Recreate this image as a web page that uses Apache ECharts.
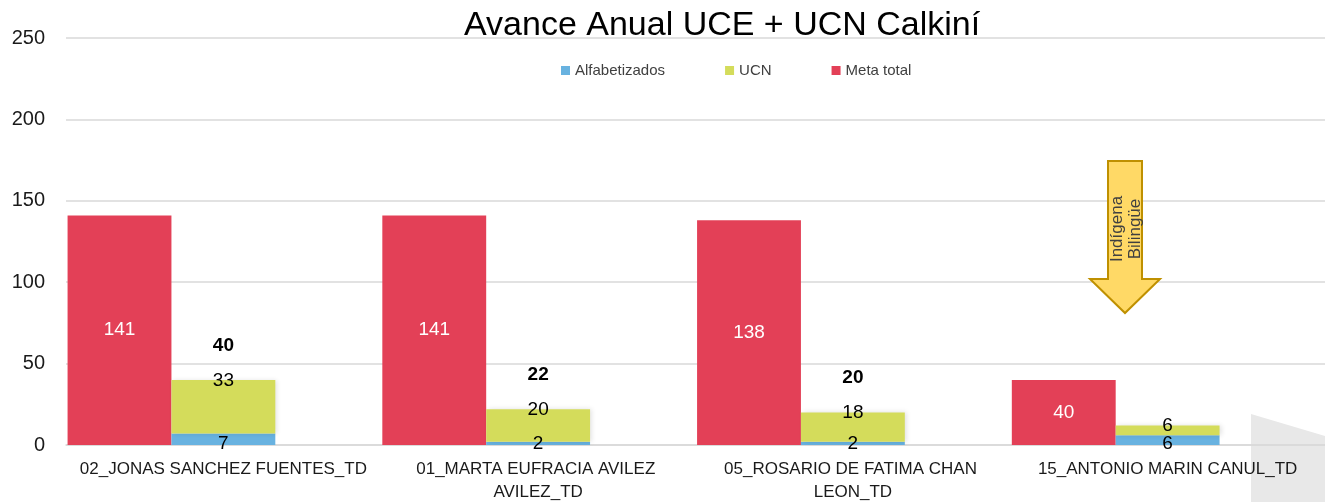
<!DOCTYPE html>
<html>
<head>
<meta charset="utf-8">
<script src="https://cdn.jsdelivr.net/npm/echarts@6/dist/echarts.min.js"></script>
<style>
  html, body {margin: 0; padding: 0; background: #fff;}
  #chart {width: 1325px; height: 502px;}
</style>
</head>
<body>
<div id="chart"></div>
<script>
const categories = ['02_JONAS SANCHEZ FUENTES_TD', '01_MARTA EUFRACIA AVILEZ AVILEZ_TD', '05_ROSARIO DE FATIMA CHAN LEON_TD', '15_ANTONIO MARIN CANUL_TD'];
const metaTotal = [141, 141, 138, 40];
const alfabetizados = [7, 2, 2, 6];
const ucn = [33, 20, 18, 6];
const totals = [40, 22, 20, null];
const yTicks = [0, 50, 100, 150, 200, 250];

const font = 'Liberation Sans';

let myChart = echarts.init(document.getElementById('chart'));
let option = {
    animation: false,
    textStyle: {fontFamily: font},
    title: {
        text: 'Avance Anual UCE + UCN Calkiní',
        left: 459,
        top: 4,
        textStyle: {fontSize: 34, fontWeight: 'normal', color: '#000', fontFamily: font}
    },
    legend: {
        data: ['Alfabetizados', 'UCN', 'Meta total'],
        left: 556,
        top: 58,
        itemWidth: 9,
        itemHeight: 9,
        itemGap: 60,
        icon: 'rect',
        textStyle: {fontSize: 15, color: '#404040', fontFamily: font}
    },
    grid: {left: 66, right: 0, top: 38, bottom: 57, outerBoundsMode: 'none'},
    xAxis: {
        type: 'category',
        data: categories,
        axisTick: {show: false},
        axisLine: {lineStyle: {color: '#d9d9d9', width: 1.5}},
        axisLabel: {
            interval: 0,
            fontSize: 17,
            color: '#1a1a1a',
            width: 300,
            overflow: 'break',
            lineHeight: 23,
            margin: 13
        }
    },
    yAxis: {
        type: 'value',
        min: yTicks[0],
        max: yTicks[yTicks.length - 1],
        interval: 50,
        axisLine: {show: false},
        axisTick: {show: false},
        splitLine: {lineStyle: {color: '#d9d9d9', width: 1.5}},
        axisLabel: {fontSize: 20, color: '#1a1a1a', margin: 21}
    },
    series: [
        {
            name: 'Meta total',
            type: 'bar',
            stack: 'meta',
            barGap: '0%',
            barCategoryGap: '1%',
            data: metaTotal,
            itemStyle: {color: '#E34057'},
            label: {show: true, position: 'inside', color: '#fff', fontSize: 19}
        },
        {
            name: 'Alfabetizados',
            type: 'bar',
            stack: 'avance',
            data: alfabetizados,
            itemStyle: {color: '#68B2E0'},
            label: {show: true, position: 'insideBottom', offset: [0, 13], color: '#000', fontSize: 19}
        },
        {
            name: 'UCN',
            type: 'bar',
            stack: 'avance',
            data: ucn,
            itemStyle: {color: '#D4DC5B', shadowColor: 'rgba(0,0,0,0.12)', shadowBlur: 5, shadowOffsetX: 2},
            label: {show: true, position: 'insideTop', offset: [0, -14], color: '#000', fontSize: 19}
        },
        {
            name: 'Total',
            type: 'bar',
            stack: 'avance',
            data: totals.map(() => 0),
            itemStyle: {color: 'transparent'},
            label: {
                show: true,
                position: 'top',
                distance: 25,
                color: '#000',
                fontSize: 19,
                fontWeight: 'bold',
                formatter: p => totals[p.dataIndex] == null ? '' : String(totals[p.dataIndex])
            }
        },
        {
            name: 'spacer',
            type: 'bar',
            stack: 'spacer',
            data: categories.map(() => null),
            itemStyle: {color: 'transparent'}
        }
    ],
    graphic: [
        {
            type: 'polygon',
            z: -10,
            silent: true,
            shape: {points: [[1251, 414], [1325, 436], [1325, 502], [1251, 502]]},
            style: {fill: '#e8e8e8'}
        },
        {
            type: 'polygon',
            z: 100,
            shape: {points: [[1108, 161], [1142, 161], [1142, 279], [1160, 279], [1125, 313], [1090, 279], [1108, 279]]},
            style: {fill: '#FFD966', stroke: '#BF9000', lineWidth: 2}
        },
        {
            type: 'text',
            z: 101,
            x: 1126,
            y: 229,
            rotation: Math.PI / 2,
            style: {
                text: 'Indígena\nBilingüe',
                fill: '#404040',
                font: '17px ' + font,
                align: 'center',
                verticalAlign: 'middle',
                lineHeight: 18
            }
        }
    ]
};
myChart.setOption(option);
</script>
</body>
</html>
